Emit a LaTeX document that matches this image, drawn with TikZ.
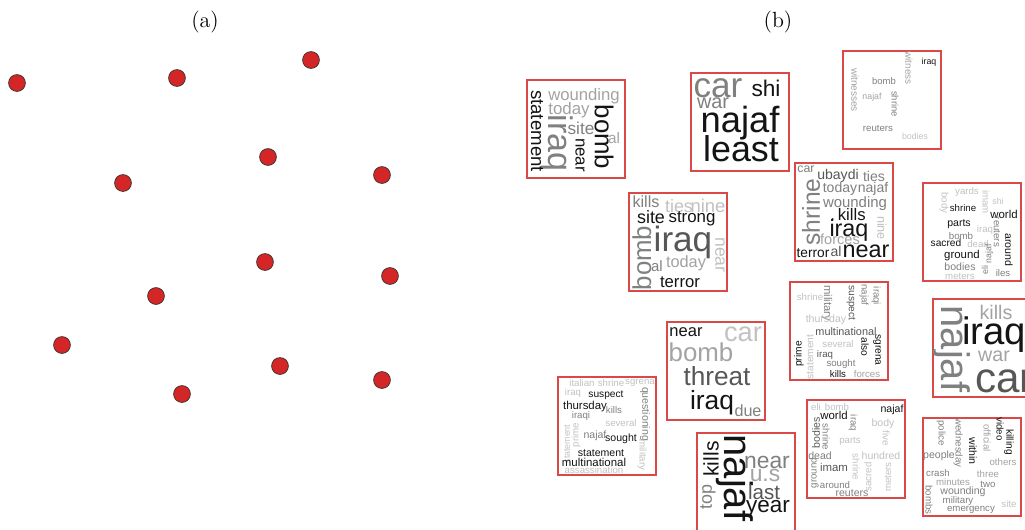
\documentclass[tikz,border=0pt]{standalone}
\usepackage{fontspec}
\usepackage{xcolor}
\usepackage{tikz}
\newfontfamily\wcfont{Liberation Sans}

\definecolor{dotred}{RGB}{212,38,38}
\definecolor{boxred}{RGB}{218,72,72}
\colorlet{wk}{black!92}
\colorlet{wd}{black!66}
\colorlet{wg}{black!50}
\colorlet{wl}{black!36}
\colorlet{wf}{black!24}

\tikzset{
 dot/.style={circle, fill=dotred, draw=black!80, line width=0.4pt, minimum size=9.6pt, inner sep=0pt},
 cloud/.style={draw=boxred, line width=1.1pt},
 word/.style={inner sep=0pt, anchor=center},
 panel/.style={font=\fontsize{12.5}{15}\selectfont},
}

\begin{document}
\begin{tikzpicture}[x=0.02cm, y=-0.02cm]
\clip (0,0) rectangle (1025,529);
\fill[white] (0,0) rectangle (1025,529);

% panel labels
\node[panel] (la) at (205,22) {(a)};
\node[panel] (lb) at (778,22) {(b)};

% (a) document points
\foreach \x/\y [count=\i] in {17/83,177/78,311/60,268/157,123/183,382/175,265/262,
 390/276,156/296,62/345,280/366,382/380,182/394}
 \node[dot] (p\i) at (\x,\y) {};

% (b) word cloud frames
\foreach \x/\y [count=\i] in {527/80,691/73,843/51,629/193,795/163,923/183,790/282,
 933/299,667/322,558/377,697/433,807/400,923/418}
 \draw[cloud] (\x,\y) rectangle ++(98,98) coordinate (c\i);

% cloud 1
\foreach \x/\y/\s/\r/\c/\t [count=\i] in {584/96/9.5/0/wl/wounding, 569/110/9.6/0/wl/today,
 557/143/19.4/-90/wg/iraq, 537/131/10.6/-90/wk/statement, 581/128/9.8/0/wg/site,
 604/137/14.7/-90/wk/bomb, 580/155/9.6/-90/wk/near, 614/138/8.7/0/wl/al}
 \node[word, rotate=\r, text=\c, font={\wcfont\fontsize{\s}{\s}\selectfont}] (wa\i) at (\x,\y) {\t};

% cloud 2
\foreach \x/\y/\s/\r/\c/\t [count=\i] in {718/88/20/0/wg/car, 713/103/11.3/0/wg/war,
 766/88/12.9/0/wk/shi, 740/123/20.7/0/wk/najaf, 741/149/20.4/0/wk/least}
 \node[word, rotate=\r, text=\c, font={\wcfont\fontsize{\s}{\s}\selectfont}] (wb\i) at (\x,\y) {\t};

% cloud 3
\foreach \x/\y/\s/\r/\c/\t [count=\i] in {855/90/5.7/-90/wl/witnesses, 884/81/5.4/0/wg/bomb,
 872/97/5/0/wl/najaf, 895/104/5.4/-90/wg/shrine, 909/68/5.6/-90/wl/witness,
 929/62/5/0/wk/iraq, 878/128/5.5/0/wg/reuters, 915/136/5/0/wf/bodies}
 \node[word, rotate=\r, text=\c, font={\wcfont\fontsize{\s}{\s}\selectfont}] (wc\i) at (\x,\y) {\t};

% cloud 4
\foreach \x/\y/\s/\r/\c/\t [count=\i] in {646/202/9.2/0/wg/kills, 679/206/10.2/0/wf/ties,
 708/206/10.5/0/wf/nine, 651/217/10.2/0/wk/site, 692/219/9.6/0/wk/strong,
 683/242/20/0/wd/iraq, 642/258/14.7/90/wg/bomb, 657/266/8.5/0/wg/al,
 686/263/9.3/0/wl/today, 720/255/10/-90/wf/near, 680/282/9.5/0/wk/terror}
 \node[word, rotate=\r, text=\c, font={\wcfont\fontsize{\s}{\s}\selectfont}] (wd\i) at (\x,\y) {\t};

% cloud 5
\foreach \x/\y/\s/\r/\c/\t [count=\i] in {806/169/7/0/wg/car, 838/176/8/0/wd/ubaydi,
 874/176/8/0/wg/ties, 840/189/8/0/wg/today, 873/189/8/0/wg/najaf,
 811/212/14/90/wg/shrine, 855/204/8.5/0/wg/wounding, 848/215/9.5/0/wk/.\,kills,
 849/230/13.3/0/wk/iraq, 882/228/7.2/-90/wf/nine, 840/239/8.3/0/wl/forces,
 813/253/7.8/0/wk/terror, 836/251/8/0/wd/al, 866/251/13.3/0/wk/near}
 \node[word, rotate=\r, text=\c, font={\wcfont\fontsize{\s}{\s}\selectfont}] (we\i) at (\x,\y) {\t};

% cloud 6
\foreach \x/\y/\s/\r/\c/\t [count=\i] in {967/192/5.5/0/wf/yards, 944/203/5.5/-90/wf/body,
 986/202/5.5/-90/wf/imam, 998/201/5/0/wf/shi, 963/208/5.5/0/wk/shrine,
 1004/214/6.5/0/wk/world, 997/232/5.5/-90/wg/reuters, 959/224/6/0/wk/parts,
 985/230/5.5/0/wf/iraq, 961/236/5.5/0/wg/bomb, 946/243/5.8/0/wk/sacred,
 978/244/5.5/0/wf/dead, 989/254/5/90/wg/najaf, 1009/250/6/-90/wk/around,
 962/256/6.5/0/wk/ground, 960/267/6/0/wg/bodies, 985/270/5/90/wg/eli,
 1003/273/5.5/0/wg/iles, 960/276/5.5/0/wf/meters}
 \node[word, rotate=\r, text=\c, font={\wcfont\fontsize{\s}{\s}\selectfont}] (wf\i) at (\x,\y) {\t};

% cloud 7
\foreach \x/\y/\s/\r/\c/\t [count=\i] in {810/297/5.5/0/wf/shrine, 827/303/6.4/-90/wg/military,
 851/303/5.8/-90/wd/suspect, 864/295/5.5/-90/wg/najaf, 876/296/5.5/-90/wg/iraqi,
 826/320/6/0/wf/thursday, 846/332/6.2/0/wd/multinational, 810/357/5.8/90/wf/statement,
 799/354/5.8/90/wk/prime, 838/344/5.5/0/wf/several, 825/355/5.5/0/wd/iraq,
 865/347/5.8/-90/wk/also, 877/350/5.8/-90/wk/sgrena, 841/364/5.5/0/wg/sought,
 838/374/5.5/0/wk/kills, 867/374/5.5/0/wl/forces}
 \node[word, rotate=\r, text=\c, font={\wcfont\fontsize{\s}{\s}\selectfont}] (wg\i) at (\x,\y) {\t};

% cloud 8
\foreach \x/\y/\s/\r/\c/\t [count=\i] in {996/312/11.2/0/wl/kills, 952/349/22.7/-90/wg/najaf,
 994/356/11.2/0/wl/war}
 \node[word, rotate=\r, text=\c, font={\wcfont\fontsize{\s}{\s}\selectfont}] (wh\i) at (\x,\y) {\t};
\node[word, anchor=west, text=wk, font={\wcfont\fontsize{21.8}{21.8}\selectfont}] (wh4) at (962,335) {iraq};
\node[word, anchor=west, text=wd, font={\wcfont\fontsize{24}{24}\selectfont}] (wh5) at (975,381) {car};

% cloud 9
\foreach \x/\y/\s/\r/\c/\t [count=\i] in {686/332/9.4/0/wk/near, 743/334/15.5/0/wf/car,
 701/352/14.7/0/wl/bomb, 717/376/14.9/0/wd/threat, 712/403/15/0/wk/iraq,
 748/411/9.2/0/wg/due}
 \node[word, rotate=\r, text=\c, font={\wcfont\fontsize{\s}{\s}\selectfont}] (wi\i) at (\x,\y) {\t};

% cloud 10
\foreach \x/\y/\s/\r/\c/\t [count=\i] in {582/383/5.5/0/wf/italian, 611/383/5.5/0/wf/shrine,
 640/383/5.5/0/wf/sgrena, 573/393/5.5/0/wf/iraq, 606/395/5.8/0/wk/suspect,
 645/414/6/-90/wg/questioning, 585/407/6.5/0/wk/thursday, 614/410/5.5/0/wg/kills,
 581/416/5.5/0/wg/iraqi, 621/423/5.5/0/wf/several, 576/435/5.5/90/wf/prime,
 567/444/5/90/wf/statement, 595/436/6/0/wg/najaf, 621/439/6/0/wk/sought,
 642/455/5.5/-90/wf/military, 601/453/6/0/wk/statement, 594/462/6.5/0/wk/multinational,
 594/470/5.5/0/wf/assassination}
 \node[word, rotate=\r, text=\c, font={\wcfont\fontsize{\s}{\s}\selectfont}] (wj\i) at (\x,\y) {\t};

% cloud 11
\foreach \x/\y/\s/\r/\c/\t [count=\i] in {708/497/10.2/90/wg/top, 711/459/12/90/wk/kills,
 735/478/22.7/-90/wk/najaf, 767/462/13/0/wg/near, 765/475/13/0/wl/u.s,
 764/492/11.7/0/wd/last, 768/509/12.8/0/wk/year}
 \node[word, rotate=\r, text=\c, font={\wcfont\fontsize{\s}{\s}\selectfont}] (wk\i) at (\x,\y) {\t};

% cloud 12
\foreach \x/\y/\s/\r/\c/\t [count=\i] in {816/407/5.5/0/wf/eli, 837/407/5.5/0/wf/bomb,
 892/410/6/0/wk/najaf, 834/415/6.5/0/wk/world, 853/423/5.5/-90/wg/iraq,
 883/424/6/0/wf/body, 816/433/6/90/wd/bodies, 826/437/5.5/-90/wg/shrine,
 850/441/5.5/0/wf/parts, 886/438/5.5/-90/wf/five, 820/456/6/0/wg/dead,
 881/456/6/0/wf/hundred, 856/467/5.5/-90/wf/shrine, 834/467/6.5/0/wd/imam,
 814/473/5.5/90/wg/ground, 868/477/5.5/90/wf/sacred, 888/477/5.5/90/wf/meters,
 835/485/5.5/0/wg/around, 852/493/6/0/wg/reuters}
 \node[word, rotate=\r, text=\c, font={\wcfont\fontsize{\s}{\s}\selectfont}] (wl\i) at (\x,\y) {\t};

% cloud 13
\foreach \x/\y/\s/\r/\c/\t [count=\i] in {941/433/5.5/-90/wg/police, 958/443/5.5/-90/wg/wednesday,
 973/451/6/-90/wk/within, 987/438/5.5/-90/wl/official, 1000/429/5.5/-90/wk/video,
 1009/442/5.8/-90/wk/killing, 939/456/6/0/wg/people, 1003/462/5.5/0/wl/others,
 938/473/5.5/0/wg/crash, 988/474/5.5/0/wl/three, 953/482/5.5/0/wl/minutes,
 988/484/5.5/0/wg/two, 963/492/6/0/wg/wounding, 958/501/5.5/0/wg/military,
 929/500/5.5/-90/wg/bombs, 971/510/5.5/0/wg/emergency, 1009/504/5.5/0/wf/site}
 \node[word, rotate=\r, text=\c, font={\wcfont\fontsize{\s}{\s}\selectfont}] (wm\i) at (\x,\y) {\t};
\end{tikzpicture}
\end{document}
